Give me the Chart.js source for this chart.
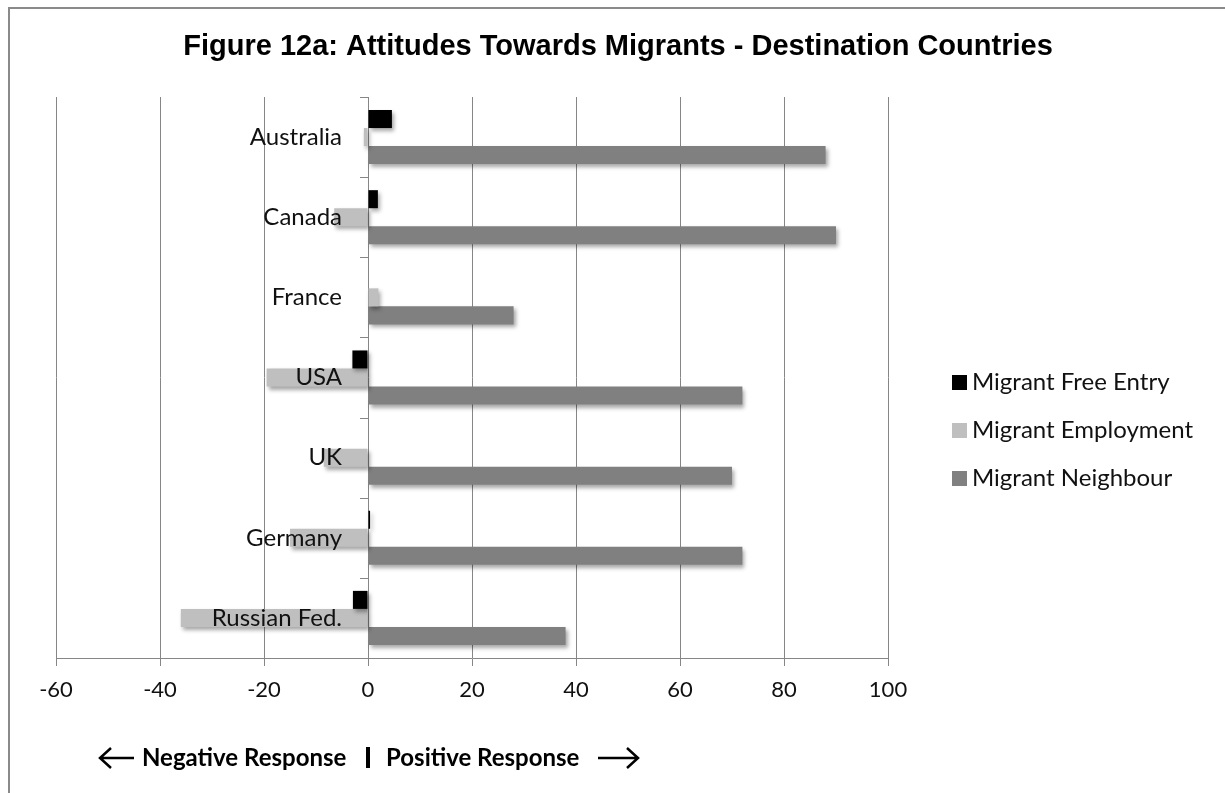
<!DOCTYPE html>
<html>
<head>
<meta charset="utf-8">
<script src="https://cdn.jsdelivr.net/npm/chart.js@4"></script>
<style>
    body { margin: 0; background: #fff; overflow: hidden; }
    #wrap { position: relative; width: 1225px; height: 793px; }
    #frame {
        position: absolute; left: 8px; top: 7px; width: 1300px; height: 900px;
        border: 2px solid #8a8a8a; pointer-events: none;
    }
</style>
</head>
<body>
<div id="wrap">
    <canvas id="chart" width="1225" height="793"></canvas>
    <div id="frame"></div>
</div>
<script>
const categories = ['Australia', 'Canada', 'France', 'USA', 'UK', 'Germany', 'Russian Fed.'];
const freeEntry = [4.6, 1.9, 0, -3, 0, 0.4, -2.9];
const employment = [-0.8, -6.5, 2, -19.5, -8.5, -15, -36];
const neighbour = [88, 90, 28, 72, 70, 72, 38];
const seriesNames = ['Migrant Free Entry', 'Migrant Employment', 'Migrant Neighbour'];
const seriesColors = ['#000000', '#bfbfbf', '#808080'];

const labelFont = 'Lato, "Open Sans", sans-serif';

// Excel style drop shadow on the bars
const shadowPlugin = {
    id: 'shadow',
    beforeDatasetsDraw(chart) {
        const ctx = chart.ctx;
        ctx.save();
        ctx.shadowColor = 'rgba(0, 0, 0, 0.35)';
        ctx.shadowBlur = 4;
        ctx.shadowOffsetX = 2;
        ctx.shadowOffsetY = 3;
    },
    afterDatasetsDraw(chart) {
        chart.ctx.restore();
    },
};

// Title, category labels at the zero line, legend and the response note
const extrasPlugin = {
    id: 'extras',
    afterDraw(chart) {
        const ctx = chart.ctx;
        const xs = chart.scales.x;
        const ys = chart.scales.y;
        const zero = xs.getPixelForValue(0);
        ctx.save();

        // title
        ctx.fillStyle = '#000';
        ctx.font = 'bold 29px "Liberation Sans", Arial, sans-serif';
        ctx.textAlign = 'center';
        ctx.textBaseline = 'middle';
        ctx.fillText('Figure 12a: Attitudes Towards Migrants - Destination Countries', 618, 47);

        // small ticks on the zero line between categories
        ctx.strokeStyle = '#868686';
        ctx.lineWidth = 1;
        const step = (ys.bottom - ys.top) / categories.length;
        for (let i = 0; i <= categories.length; i++) {
            const y = Math.round(ys.top + i * step) + 0.5;
            ctx.beginPath();
            ctx.moveTo(zero - 8, y);
            ctx.lineTo(zero, y);
            ctx.stroke();
        }

        // category labels
        ctx.font = '24px ' + labelFont;
        ctx.fillStyle = '#111';
        ctx.textAlign = 'right';
        categories.forEach((c, i) => {
            ctx.fillText(c, zero - 26, ys.getPixelForValue(i));
        });

        // legend
        ctx.textAlign = 'left';
        seriesNames.forEach((name, i) => {
            const y = 382 + i * 48;
            ctx.fillStyle = seriesColors[i];
            ctx.fillRect(952, y - 7, 15, 15);
            ctx.fillStyle = '#111';
            ctx.fillText(name, 972, y);
        });

        // negative / positive note
        const ny = 758;
        ctx.strokeStyle = '#000';
        ctx.lineWidth = 2.5;
        ctx.beginPath();
        ctx.moveTo(100, ny); ctx.lineTo(134, ny);
        ctx.moveTo(111, ny - 10); ctx.lineTo(100, ny); ctx.lineTo(111, ny + 10);
        ctx.moveTo(598, ny); ctx.lineTo(638, ny);
        ctx.moveTo(627, ny - 10); ctx.lineTo(638, ny); ctx.lineTo(627, ny + 10);
        ctx.stroke();
        ctx.fillStyle = '#000';
        ctx.font = 'bold 24px ' + labelFont;
        ctx.fillText('Negative Response', 142, ny);
        ctx.fillText('Positive Response', 386, ny);
        ctx.fillRect(366, ny - 11, 4, 21);

        ctx.restore();
    },
};

new Chart(document.getElementById('chart'), {
    type: 'bar',
    data: {
        labels: categories,
        datasets: [
            { label: seriesNames[0], data: freeEntry, backgroundColor: seriesColors[0] },
            { label: seriesNames[1], data: employment, backgroundColor: seriesColors[1] },
            { label: seriesNames[2], data: neighbour, backgroundColor: seriesColors[2] },
        ],
    },
    options: {
        indexAxis: 'y',
        responsive: false,
        animation: false,
        datasets: {
            bar: { categoryPercentage: 0.675, barPercentage: 1 },
        },
        layout: { padding: { left: 56, right: 337, top: 97, bottom: 0 } },
        plugins: {
            legend: { display: false },
            title: { display: false },
            tooltip: { enabled: false },
        },
        scales: {
            x: {
                min: -60,
                max: 100,
                ticks: {
                    stepSize: 20,
                    color: '#111',
                    padding: 11,
                    font: { family: labelFont, size: 22 },
                },
                grid: { color: '#868686', tickLength: 8, drawTicks: true },
                border: { color: '#868686' },
                afterFit(scale) { scale.height = 135; },
            },
            y: {
                display: false,
            },
        },
    },
    plugins: [shadowPlugin, extrasPlugin],
});
</script>
</body>
</html>
